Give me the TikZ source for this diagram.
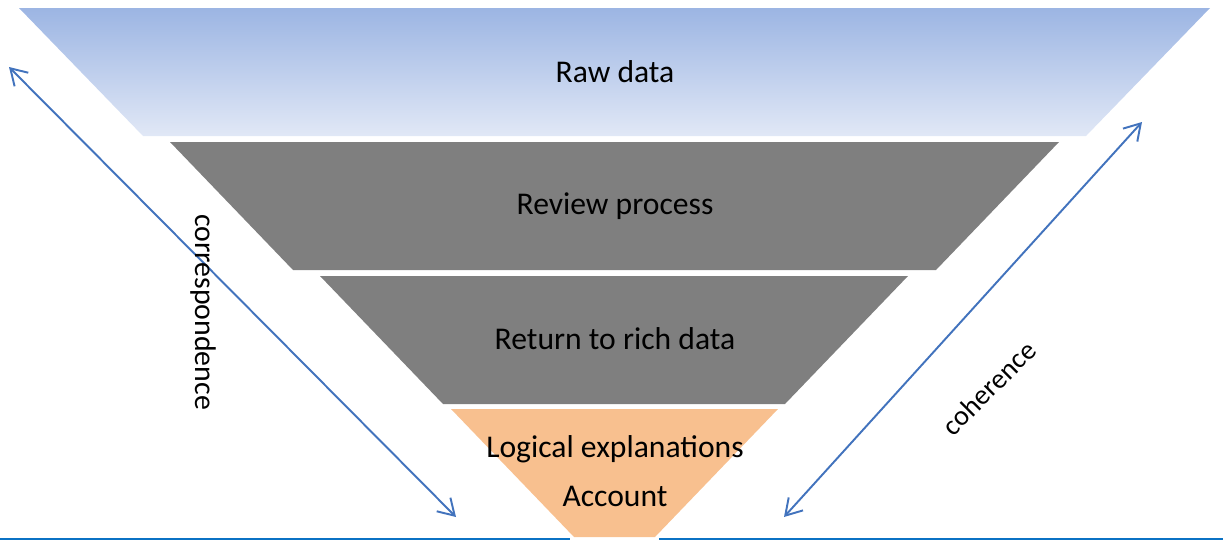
\documentclass[tikz,border=0pt]{standalone}
\usepackage{fontspec}
\setmainfont{Carlito}
\usetikzlibrary{arrows.meta}

\definecolor{rawtop}{HTML}{9CB5E3}
\definecolor{rawbottom}{HTML}{E1E8F6}
\definecolor{layergray}{HTML}{7F7F7F}
\definecolor{accountorange}{HTML}{F8C08F}
\definecolor{arrowblue}{HTML}{4273BD}
\definecolor{baseblue}{HTML}{0B72C4}

\tikzset{
    layertext/.style={font=\fontsize{18}{22}\selectfont, text=black, inner sep=1pt},
    sidetext/.style={font=\fontsize{17}{20}\selectfont, text=black, inner sep=1pt},
    sidearrow/.style={arrowblue, line width=1.1pt, {Straight Barb[length=9pt,width=11pt]}-{Straight Barb[length=9pt,width=11pt]}}
}

\begin{document}
\begin{tikzpicture}[x=0.02cm, y=-0.02cm]
    \useasboundingbox (0,0) rectangle (1223,541);

    % Funnel layers
    \shade[top color=rawtop, bottom color=rawbottom] (19,8) -- (1210,8) -- (1086,136) -- (143,136) -- cycle;
    \fill[layergray] (170,142) -- (1059,142) -- (936,270) -- (293,270) -- cycle;
    \fill[layergray] (320,276) -- (908,276) -- (785,404) -- (443,404) -- cycle;
    \fill[accountorange] (451,409) -- (778,409) -- (655,537) -- (574,537) -- cycle;

    % Base line
    \coordinate (baseL) at (0,539);
    \coordinate (baseLM) at (570,539);
    \coordinate (baseRM) at (659,539);
    \coordinate (baseR) at (1223,539);
    \draw[baseblue, line width=1.3pt] (baseL) -- (baseLM) (baseRM) -- (baseR);

    % Layer labels
    \node[layertext] (raw) at (615,72) {Raw data};
    \node[layertext] (review) at (615,206) {Review process};
    \node[layertext] (rich) at (615,339) {Return to rich data};
    \node[layertext] (logical) at (615,449) {Logical explanations};
    \node[layertext] (account) at (615,496) {Account};

    % Side arrows
    \coordinate (corrTop) at (9,67);
    \coordinate (corrBottom) at (456,517);
    \coordinate (cohTop) at (1142,122);
    \coordinate (cohBottom) at (784,517);
    \draw[sidearrow] (corrTop) -- (corrBottom);
    \draw[sidearrow] (cohBottom) -- (cohTop);

    \node[sidetext, rotate=-90] (corr) at (203,312) {correspondence};
    \node[sidetext, rotate=45, font=\fontsize{16}{19}\selectfont] (coh) at (989,388) {coherence};
\end{tikzpicture}
\end{document}
